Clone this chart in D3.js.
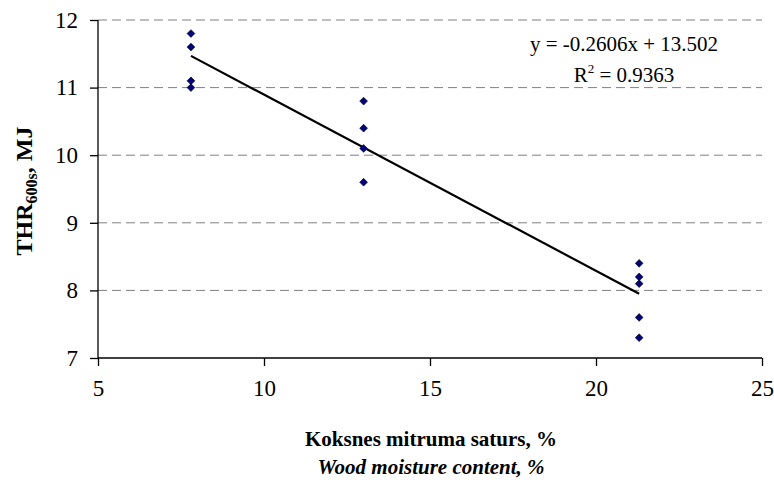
<!DOCTYPE html>
<html><head><meta charset="utf-8">
<script src="https://cdn.jsdelivr.net/npm/d3@7"></script>
</head><body style="margin:0"><svg id="c" width="774" height="493" style="display:block;background:#fff"></svg>
<script>
const xValues = [7.8,7.8,7.8,7.8, 13,13,13,13, 21.3,21.3,21.3,21.3,21.3];
const yValues = [11.8,11.6,11.1,11.0, 10.8,10.4,10.1,9.6, 8.4,8.2,8.1,7.6,7.3];
const xTicks = [5,10,15,20,25];
const yTicks = [7,8,9,10,11,12];
const slope = -0.2606, intercept = 13.502;
const eqText = "y = -0.2606x + 13.502";
const r2Text = "0.9363";

const FONT = "Liberation Serif";
const svg = d3.select("#c");
const L=98, R=762, T=20, B=358;
const x = d3.scaleLinear().domain([5,25]).range([L,R]);
const y = d3.scaleLinear().domain([7,12]).range([B,T]);

// grid
svg.append("g").selectAll("line").data(yTicks.filter(d=>d>7)).join("line")
  .attr("x1",L).attr("x2",R).attr("y1",d=>y(d)).attr("y2",d=>y(d))
  .attr("stroke","#808080").attr("stroke-width",1).attr("stroke-dasharray","9,5");

// axes
const gx = svg.append("g").attr("transform",`translate(0,${B})`)
  .call(d3.axisBottom(x).tickValues(xTicks).tickSize(8).tickPadding(14).tickFormat(d3.format("d")));
const gy = svg.append("g").attr("transform",`translate(${L},0)`)
  .call(d3.axisLeft(y).tickValues(yTicks).tickSize(8).tickPadding(12).tickFormat(d3.format("d")));
[gx,gy].forEach(g=>{
  g.attr("font-family",null).attr("font-size",null);
  g.select(".domain").attr("stroke","#000").attr("stroke-width",1.3);
  g.selectAll(".tick line").attr("stroke","#000").attr("stroke-width",1.3);
  g.selectAll(".tick text").style("font-family",FONT).style("font-size","23px").attr("fill","#000");
});
gy.select(".domain").attr("d",`M0,${B}V${T}`);
gx.select(".domain").attr("d",`M${L},0H${R}`);

// trendline
const xs = d3.extent(xValues);
svg.append("line")
  .attr("x1",x(xs[0])).attr("y1",y(slope*xs[0]+intercept))
  .attr("x2",x(xs[1])).attr("y2",y(slope*xs[1]+intercept))
  .attr("stroke","#000").attr("stroke-width",2.2);

// points
const pts = xValues.map((v,i)=>({x:v,y:yValues[i]}));
svg.append("g").selectAll("path").data(pts).join("path")
  .attr("d",d3.symbol(d3.symbolSquare,30))
  .attr("transform",d=>`translate(${x(d.x)},${y(d.y)}) rotate(45)`)
  .attr("fill","#000080").attr("stroke","#000").attr("stroke-width",0.6);

// equation
svg.append("text").attr("x",624).attr("y",51).attr("text-anchor","middle").style("font-size","21px").style("font-family",FONT).text(eqText);
const r2 = svg.append("text").attr("x",624).attr("y",82).attr("text-anchor","middle").style("font-size","21px").style("font-family",FONT);
r2.append("tspan").text("R");
r2.append("tspan").style("font-size","13px").attr("dy",-9).text("2");
r2.append("tspan").attr("dy",9).text(" = "+r2Text);

// x titles
svg.append("text").attr("x",431).attr("y",446).attr("text-anchor","middle").style("font-size","21px").style("font-weight","bold").style("font-family",FONT).text("Koksnes mitruma saturs, %");
svg.append("text").attr("x",431).attr("y",474).attr("text-anchor","middle").style("font-size","21px").style("font-weight","bold").style("font-style","italic").style("font-family",FONT).text("Wood moisture content, %");

// y title
const yt = svg.append("text").attr("transform","translate(32,191) rotate(-90)").attr("text-anchor","middle").style("font-size","24px").style("font-weight","bold").style("font-family",FONT);
yt.append("tspan").text("THR");
yt.append("tspan").style("font-size","16px").attr("dy",5).text("600s");
yt.append("tspan").attr("dy",-5).text(", MJ");
</script></body></html>
